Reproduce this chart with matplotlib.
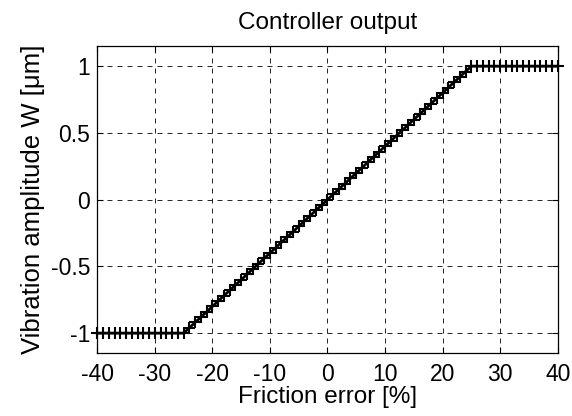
import matplotlib
matplotlib.use('Agg')
import matplotlib.pyplot as plt

# Controller output: friction error vs vibration amplitude
frictionErr = [-40, -39, -38, -37, -36, -35, -34, -33, -32, -31, -30, -29, -28, -27, -26, -25,
               -24, -23, -22, -21, -20, -19, -18, -17, -16, -15, -14, -13, -12, -11, -10,
               -9, -8, -7, -6, -5, -4, -3, -2, -1, 0, 1, 2, 3, 4, 5, 6, 7, 8, 9,
               10, 11, 12, 13, 14, 15, 16, 17, 18, 19, 20, 21, 22, 23, 24,
               25, 26, 27, 28, 29, 30, 31, 32, 33, 34, 35, 36, 37, 38, 39, 40]
amplitude = [-1, -1, -1, -1, -1, -1, -1, -1, -1, -1, -1, -1, -1, -1, -1, -1,
             -0.96, -0.92, -0.88, -0.84, -0.80, -0.76, -0.72, -0.68, -0.64, -0.60, -0.56, -0.52,
             -0.48, -0.44, -0.40, -0.36, -0.32, -0.28, -0.24, -0.20, -0.16, -0.12, -0.08, -0.04,
             0.0, 0.04, 0.08, 0.12, 0.16, 0.20, 0.24, 0.28, 0.32, 0.36, 0.40, 0.44, 0.48,
             0.52, 0.56, 0.60, 0.64, 0.68, 0.72, 0.76, 0.80, 0.84, 0.88, 0.92, 0.96,
             1, 1, 1, 1, 1, 1, 1, 1, 1, 1, 1, 1, 1, 1, 1, 1]
xTicks = [-40, -30, -20, -10, 0, 10, 20, 30, 40]
yTicks = [-1, -0.5, 0, 0.5, 1]
yTickLabels = ['-1', '-0.5', '0', '0.5', '1']

plt.rcParams['font.family'] = ['Liberation Sans', 'DejaVu Sans']

fig = plt.figure(figsize=(5.72, 4.16), dpi=100)
ax = fig.add_axes([0.170, 0.151, 0.805, 0.738])

ax.plot(frictionErr, amplitude, color='black', linewidth=2.0,
        marker='+', markersize=8, markeredgewidth=1.5, clip_on=False)

ax.set_xlim(-40, 40)
ax.set_ylim(-1.15, 1.15)
ax.set_xticks(xTicks)
ax.set_xticklabels([str(t) for t in xTicks])
ax.set_yticks(yTicks)
ax.set_yticklabels(yTickLabels)
ax.tick_params(direction='in', length=4, width=0.8, labelsize=16.5,
               top=True, right=True, pad=5)
ax.tick_params(axis='x', pad=7)
ax.grid(True, color='black', linestyle=(0, (6, 6)), linewidth=0.6)
for s in ax.spines.values():
    s.set_linewidth(0.9)

ax.set_title('Controller output', fontsize=17.5, pad=12.5)
ax.set_xlabel('Friction error [%]', fontsize=17.5, labelpad=0)
ax.set_ylabel('Vibration amplitude W [\u03bcm]', fontsize=18.5, labelpad=4)

plt.savefig('out.png', dpi=100)
